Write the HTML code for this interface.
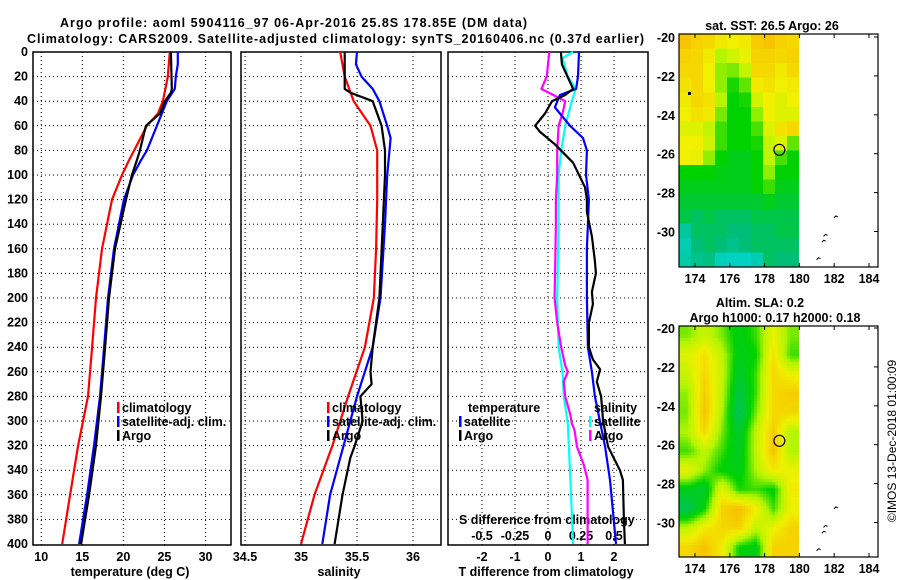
<!DOCTYPE html>
<html><head><meta charset="utf-8"><style>
body{margin:0;background:#fff;}
svg text{font-family:"Liberation Sans",sans-serif;font-weight:bold;font-size:12.5px;fill:#000;}
#wrap{position:relative;width:900px;height:580px;}
canvas{position:absolute;}
</style></head><body>
<div id="wrap">
<canvas id="m1" width="10" height="16" style="left:679px;top:34px;width:120px;height:233px;image-rendering:pixelated;"></canvas>
<canvas id="m2" width="120" height="231" style="left:679px;top:326px;width:120px;height:231px;"></canvas>
<svg id="s" width="900" height="580" style="position:absolute;left:0;top:0"></svg>
</div>
<script>
// ---- data ----
const depthTicks=[0,20,40,60,80,100,120,140,160,180,200,220,240,260,280,300,320,340,360,380,400];
const tTicks=[10,15,20,25,30];
const sTicks=[34.5,35,35.5,36];
const dTicks=[-2,-1,0,1,2];
const sdTicks=[-0.5,-0.25,0,0.25,0.5];
const sdTickLabels=["-0.5","-0.25","0","0.25","0.5"];
const lonTicks=[174,176,178,180,182,184];
const latTicks=[-20,-22,-24,-26,-28,-30];

const tClimD=[0,20,40,50,60,88,100,120,160,200,240,280,320,360,400];
const tClim=[25.65,25.41,24.81,24.2,22.86,20.68,19.83,18.62,17.4,16.67,16.19,15.7,14.49,13.52,12.55];
const tSatD=[0,10,20,30,40,60,80,88,100,120,160,200,240,280,320,360,400];
const tSat=[26.63,26.63,26.38,26.26,25.29,24.08,22.86,22.14,21.17,20.07,18.86,18.13,17.65,17.16,16.43,15.58,14.61];
const tArgoD=[0,30,33,40,50,60,80,88,100,120,160,200,240,280,320,360,400];
const tArgo=[25.78,25.9,25.78,25.05,24.44,22.74,22.01,21.65,21.04,20.32,18.98,18.25,17.77,17.28,16.67,15.83,14.85];

const sClimD=[0,20,40,60,80,120,160,200,240,280,320,360,400];
const sClim=[35.35,35.39,35.47,35.62,35.68,35.68,35.67,35.65,35.57,35.42,35.28,35.12,35.0];
const sSatD=[0,10,20,30,40,60,70,80,100,140,200,240,280,320,360,400];
const sSat=[35.5,35.49,35.54,35.64,35.7,35.77,35.8,35.79,35.77,35.75,35.71,35.64,35.5,35.38,35.26,35.19];
const sArgoD=[0,30,33,40,60,80,100,140,200,240,260,270,280,300,320,330,360,400];
const sArgo=[35.39,35.39,35.44,35.64,35.72,35.75,35.75,35.73,35.7,35.64,35.62,35.63,35.53,35.55,35.48,35.44,35.37,35.3];

const dTSatD=[0,20,30,35,45,50,60,70,80,100,120,140,160,200,240,260,280,321,348,400];
const dTSat=[0.94,0.91,0.85,0.36,0.21,0.36,0.67,1.06,1.18,1.15,1.24,1.21,1.18,1.18,1.21,1.33,1.42,1.73,1.88,2.06];
const dTArgoD=[0,10,30,35,40,50,60,65,75,90,110,120,130,150,170,180,195,205,220,240,250,258,268,280,300,321,340,348,380,400];
const dTArgo=[0.39,0.42,0.76,0.52,0.12,-0.09,-0.39,-0.24,0.21,0.76,1.12,1.18,1.18,1.33,1.42,1.45,1.33,1.36,1.24,1.24,1.36,1.58,1.48,1.61,1.67,1.82,2.18,2.27,2.30,2.33];
const dSArgoD=[0,20,30,35,40,50,60,80,100,120,140,200,220,240,255,260,268,280,295,302,307,321,335,348,375,400];
const dSArgo=[0.01,-0.01,-0.05,0.04,0.13,0.11,0.08,0.07,0.07,0.06,0.06,0.05,0.07,0.10,0.13,0.15,0.12,0.13,0.17,0.18,0.20,0.22,0.27,0.30,0.30,0.30];
const dSSatD=[0,5,20,30,40,60,80,100,120,140,200,240,260,280,302,348,400];
const dSSat=[0.19,0.11,0.15,0.21,0.18,0.13,0.10,0.08,0.08,0.08,0.07,0.08,0.11,0.12,0.15,0.17,0.19];

const sstGrid=[
[.95,.9,.88,.82,.8,.82,.92,.95,.9,.88],
[.9,.88,.82,.65,.72,.78,.9,.9,.88,.9],
[.88,.88,.8,.62,.6,.68,.88,.88,.82,.88],
[.85,.88,.8,.62,.52,.58,.82,.85,.8,.82],
[.82,.88,.85,.66,.5,.52,.72,.8,.76,.8],
[.8,.85,.82,.6,.5,.5,.62,.8,.75,.76],
[.75,.75,.68,.55,.5,.5,.56,.75,.85,.88],
[.8,.8,.72,.55,.5,.5,.52,.7,.75,.58],
[.8,.78,.62,.5,.45,.45,.5,.68,.56,.5],
[.5,.5,.5,.46,.45,.45,.5,.62,.5,.5],
[.45,.45,.45,.45,.45,.45,.5,.55,.45,.45],
[.4,.4,.4,.4,.4,.4,.4,.45,.4,.4],
[.35,.3,.35,.3,.3,.3,.35,.35,.35,.35],
[.15,.3,.3,.3,.25,.25,.3,.3,.35,.35],
[.1,.25,.3,.25,.2,.25,.3,.3,.3,.3],
[.12,.2,.22,.08,.05,.05,.1,.3,.25,.25]];
const slaGrid=[
[.6,.7,.6,.45,.55,.78,.6],
[.75,.85,.68,.45,.5,.85,.55],
[.7,.88,.7,.4,.55,.88,.78],
[.62,.92,.68,.35,.55,.88,.92],
[.6,.95,.65,.3,.6,.88,.88],
[.65,.88,.6,.4,.68,.92,.65],
[.55,.68,.55,.42,.68,.95,.65],
[.78,.62,.48,.45,.65,.82,.78],
[.45,.4,.78,.52,.55,.48,.82],
[.32,.5,.9,.97,.82,.55,.78],
[.68,.82,.88,.9,.68,.78,.9],
[.88,.95,.82,.5,.45,.9,.9]];

// ---- helpers ----
const S=document.getElementById('s');
const NS='http://www.w3.org/2000/svg';
function el(tag,attrs,parent){const e=document.createElementNS(NS,tag);for(const k in attrs)e.setAttribute(k,attrs[k]);(parent||S).appendChild(e);return e;}
function txt(x,y,str,anchor,extra){const t=el('text',Object.assign({x:x,y:y,'text-anchor':anchor||'start'},extra||{}));t.textContent=str;return t;}
const Y0=52,YS=1.23;
function yD(d){return Y0+d*YS;}
const PY1=52,PY2=545;

const panels=[
 {x0:33,x1:231,min:9.0,max:33.1,name:'temperature-panel'},
 {x0:241,x1:441,min:34.464,max:36.25,name:'salinity-panel'},
 {x0:448,x1:648,min:-3.03,max:3.03,name:'difference-panel'}];
function xf(p,v){return p.x0+(v-p.min)/(p.max-p.min)*(p.x1-p.x0);}

let t1=txt(60,27,'Argo profile: aoml 5904116_97 06-Apr-2016 25.8S 178.85E (DM data)','start',{'font-size':'13','textLength':'467'});

let t2=txt(27,43,'Climatology: CARS2009. Satellite-adjusted climatology: synTS_20160406.nc (0.37d earlier)','start',{'font-size':'13','textLength':'617'});


panels.forEach((p,i)=>{
 const g=el('g',{});
 
 
 depthTicks.forEach(d=>{ if(d>0&&d<400){const l=el('line',{x1:p.x0,x2:p.x1,y1:yD(d),y2:yD(d),stroke:'#000','stroke-dasharray':'1,3','stroke-width':1},g);}});
 const ticks=i===0?tTicks:i===1?sTicks:dTicks;
 ticks.forEach(v=>{const x=xf(p,v);const l=el('line',{x1:x,x2:x,y1:PY1,y2:PY2,stroke:'#000','stroke-dasharray':'1,3','stroke-width':1},g);
  const tl=txt(x,561,String(v),'middle',{});});
 const r=el('rect',{x:p.x0,y:PY1,width:p.x1-p.x0,height:PY2-PY1,fill:'none',stroke:'#000','stroke-width':1.5},g);
 
});
depthTicks.forEach(d=>{const t=txt(28,yD(d)+4,String(d),'end',{'font-size':'13'});});

let at=txt(130,576,'temperature (deg C)','middle',{});
at=txt(339,576,'salinity','middle',{});
at=txt(546,576,'T difference from climatology','middle',{});
at=txt(459,524,'S difference from climatology','start',{});
sdTicks.forEach((v,k)=>{const x=xf(panels[2],v*4);const t=txt(x,540,sdTickLabels[k],'middle',{});});

function line(p,ds,vs,color,name,scale){
 const pts=ds.map((d,k)=>xf(p,vs[k]*(scale||1)).toFixed(1)+','+yD(d).toFixed(1)).join(' ');
 const l=el('polyline',{points:pts,fill:'none',stroke:color,'stroke-width':2.2,'stroke-linejoin':'round'});
 
 
}
line(panels[0],tClimD,tClim,'#ff0000','temp-climatology-line');
line(panels[0],tSatD,tSat,'#0000ff','temp-satellite-line');
line(panels[0],tArgoD,tArgo,'#000000','temp-argo-line');
line(panels[1],sClimD,sClim,'#ff0000','sal-climatology-line');
line(panels[1],sSatD,sSat,'#0000ff','sal-satellite-line');
line(panels[1],sArgoD,sArgo,'#000000','sal-argo-line');
line(panels[2],dSSatD,dSSat,'#00ffff','s-diff-satellite-line',4);
line(panels[2],dSArgoD,dSArgo,'#ff00ff','s-diff-argo-line',4);
line(panels[2],dTSatD,dTSat,'#0000ff','t-diff-satellite-line');
line(panels[2],dTArgoD,dTArgo,'#000000','t-diff-argo-line');

function legend(x,y,color,label){
 if(color){const b=el('rect',{x:x,y:y-10,width:2.5,height:11,fill:color});}
 const t=txt(x+5,y,label,'start',{});
}
legend(117,412,'#ff0000','climatology');legend(117,426,'#0000ff','satellite-adj. clim.');legend(117,440,'#000000','Argo');
legend(327,412,'#ff0000','climatology');legend(327,426,'#0000ff','satellite-adj. clim.');legend(327,440,'#000000','Argo');
legend(463,412,null,'temperature');legend(459,426,'#0000ff','satellite');legend(459,440,'#000000','Argo');
legend(589,412,null,'salinity');legend(589,426,'#00ffff','satellite');legend(589,440,'#ff00ff','Argo');

// ---- maps ----
const stops=[[0,[0,215,215]],[0.25,[0,190,120]],[0.5,[0,210,0]],[0.65,[180,245,0]],[0.8,[240,240,0]],[1,[250,180,0]]];
function cmap(v){for(let i=1;i<stops.length;i++){if(v<=stops[i][0]){const a=stops[i-1],b=stops[i];const f=(v-a[0])/(b[0]-a[0]);return 'rgb('+a[1].map((c,k)=>Math.round(c+(b[1][k]-c)*f)).join(',')+')';}}return 'rgb(250,180,0)';}
function paint(id,grid){const c=document.getElementById(id).getContext('2d');grid.forEach((row,r)=>row.forEach((v,k)=>{c.fillStyle=cmap(v);c.fillRect(k,r,1,1);}));}
paint('m1',sstGrid);
function paintSmooth(id,grid,W,H,cell){
 const c=document.getElementById(id).getContext('2d');
 const R=grid.length,C=grid[0].length;
 for(let y=0;y<H;y+=cell)for(let x=0;x<W;x+=cell){
  const gx=Math.min(Math.max((x+cell/2)/W*C-0.5,0),C-1),gy=Math.min(Math.max((y+cell/2)/H*R-0.5,0),R-1);
  const x0=Math.floor(gx),y0=Math.floor(gy),x1=Math.min(x0+1,C-1),y1=Math.min(y0+1,R-1),fx=gx-x0,fy=gy-y0;
  const v=grid[y0][x0]*(1-fx)*(1-fy)+grid[y0][x1]*fx*(1-fy)+grid[y1][x0]*(1-fx)*fy+grid[y1][x1]*fx*fy;
  c.fillStyle=cmap(v);c.fillRect(x,y,cell,cell);
 }
}
paintSmooth('m2',slaGrid,120,231,3);

const maps=[{top:34,bot:267,y20:37,name:'sst-map',title:['sat. SST: 26.5 Argo: 26']},
            {top:326,bot:557,y20:328,name:'sla-map',title:['Altim. SLA: 0.2','Argo h1000: 0.17 h2000: 0.18']}];
function lonX(l){return 695+(l-174)*17.4;}
maps.forEach(m=>{
 const latY=la=>m.y20+(-20-la)*19.45;
 const g=el('g',{});
 const r=el('rect',{x:679,y:m.top,width:199,height:m.bot-m.top,fill:'none',stroke:'#000','stroke-width':1.2},g);
 
 lonTicks.forEach(l=>{const x=lonX(l);el('line',{x1:x,x2:x,y1:m.top,y2:m.top+4,stroke:'#000'},g);el('line',{x1:x,x2:x,y1:m.bot,y2:m.bot-4,stroke:'#000'},g);
  const t=txt(x,m.bot+16,String(l),'middle',{},g);});
 latTicks.forEach(la=>{const y=latY(la);el('line',{x1:878,x2:874,y1:y,y2:y,stroke:'#000'},g);
  const t=txt(675,y+5,String(la),'end',{});});
 const c=el('circle',{cx:lonX(178.85),cy:latY(-25.8),r:5.5,fill:'none',stroke:'#000','stroke-width':1.2},g);
 
 [[182.1,-29.25],[181.5,-30.2],[181.4,-30.5],[181.1,-31.4]].forEach(p=>{const i=el('path',{d:'M'+(lonX(p[0])-2)+' '+(latY(p[1])+1)+' l2 -2 l2 1',fill:'none',stroke:'#000','stroke-width':1},g);});
 m.title.forEach((s,k)=>{const t=txt(m.title.length===1?772:(k===0?760:775),m.top-(m.title.length-k)*15+11,s,'middle',{});});
});
const dot=el('rect',{x:688,y:92,width:3,height:3,fill:'#000'});

const cp=txt(0,0,'©IMOS 13-Dec-2018 01:00:09','middle',{style:'font-weight:normal;font-size:12px',transform:'translate(896,441) rotate(-90)'});

</script>
</body></html>
